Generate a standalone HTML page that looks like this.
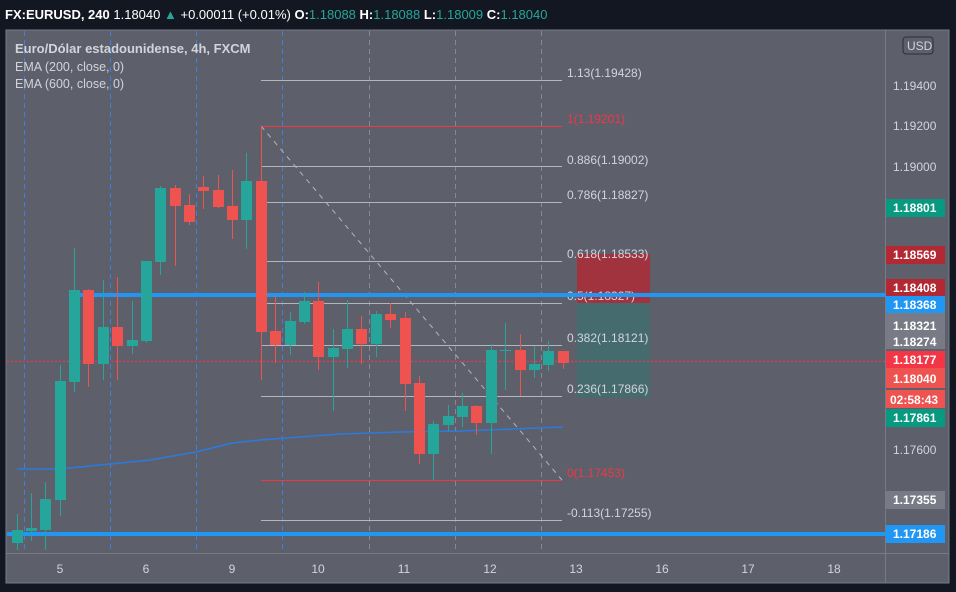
<!DOCTYPE html>
<html><head><meta charset="utf-8"><style>
html,body{margin:0;padding:0;background:#131722;}
svg{display:block;font-family:"Liberation Sans","DejaVu Sans",sans-serif;}
</style></head><body>
<svg width="956" height="592" viewBox="0 0 956 592" xmlns="http://www.w3.org/2000/svg">
<rect width="956" height="592" fill="#131722"/>
<text x="5" y="19" font-size="13" fill="#fff" font-weight="bold">FX:EURUSD, 240 <tspan font-weight="normal">1.18040</tspan> <tspan fill="#26a69a">▲</tspan> <tspan font-weight="normal">+0.00011 (+0.01%)</tspan> O:<tspan fill="#26a69a" font-weight="normal">1.18088</tspan> H:<tspan fill="#26a69a" font-weight="normal">1.18088</tspan> L:<tspan fill="#26a69a" font-weight="normal">1.18009</tspan> C:<tspan fill="#26a69a" font-weight="normal">1.18040</tspan></text>
<rect x="6" y="30" width="943" height="553" fill="#5d606b" stroke="#787b86" stroke-width="1"/>
<line x1="885.5" y1="30" x2="885.5" y2="583" stroke="#787b86"/>
<line x1="6" y1="553.5" x2="949" y2="553.5" stroke="#787b86"/>
<g stroke="#3f7fe0" stroke-dasharray="5,4" stroke-width="1">
<line x1="24.5" y1="31" x2="24.5" y2="553"/><line x1="110.5" y1="31" x2="110.5" y2="553"/>
<line x1="196.5" y1="31" x2="196.5" y2="553"/><line x1="282.5" y1="31" x2="282.5" y2="553"/>
<line x1="369.5" y1="31" x2="369.5" y2="553" stroke="#8088a0"/><line x1="455.5" y1="31" x2="455.5" y2="553" stroke="#8088a0"/>
<line x1="541.5" y1="31" x2="541.5" y2="553" stroke="#8088a0"/>
</g>
<text x="15" y="53" font-size="13" fill="#d1d4dc" font-weight="bold">Euro/Dólar estadounidense, 4h, FXCM</text>
<text x="15" y="71" font-size="12.5" fill="#d1d4dc">EMA (200, close, 0)</text>
<text x="15" y="88" font-size="12.5" fill="#d1d4dc">EMA (600, close, 0)</text>
<g stroke="#b2b5be" stroke-width="1">
<line x1="261" y1="80.5" x2="562" y2="80.5"/><line x1="261" y1="166.5" x2="562" y2="166.5"/>
<line x1="261" y1="202.5" x2="562" y2="202.5"/><line x1="261" y1="261.5" x2="562" y2="261.5"/>
<line x1="261" y1="303.5" x2="562" y2="303.5"/><line x1="261" y1="345.5" x2="562" y2="345.5"/>
<line x1="261" y1="396.5" x2="562" y2="396.5"/><line x1="261" y1="520.5" x2="562" y2="520.5"/>
</g>
<line x1="261" y1="126.5" x2="562" y2="126.5" stroke="#f23645"/>
<line x1="261" y1="480.5" x2="562" y2="480.5" stroke="#f23645"/>
<line x1="261" y1="126" x2="562" y2="480" stroke="#b2b5be" stroke-dasharray="5,5"/>
<rect x="577" y="254" width="73" height="49" fill="#b22833" opacity="0.8"/>
<rect x="577" y="303" width="73" height="95" fill="#3f6f70" opacity="0.75"/>
<g font-size="12" fill="#d1d4dc">
<text x="567" y="77">1.13(1.19428)</text><text x="567" y="164">0.886(1.19002)</text>
<text x="567" y="199">0.786(1.18827)</text><text x="567" y="258">0.618(1.18533)</text>
<text x="567" y="300">0.5(1.18327)</text><text x="567" y="342">0.382(1.18121)</text>
<text x="567" y="393">0.236(1.17866)</text><text x="567" y="517">-0.113(1.17255)</text>
</g>
<text x="567" y="123" font-size="12" fill="#f23645">1(1.19201)</text>
<text x="567" y="477" font-size="12" fill="#f23645">0(1.17453)</text>
<rect x="80" y="293" width="806" height="4" fill="#2196f3"/>
<rect x="7" y="532" width="879" height="4" fill="#2196f3"/>
<line x1="7" y1="361.5" x2="885" y2="361.5" stroke="#f23645" stroke-width="1.2" stroke-dasharray="2,2"/>
<polyline fill="none" stroke="#2a7be0" stroke-width="1.5" points="17,469 60,469 100,465 150,460 196,452 232,443 260,440 300,437 340,434 400,432 460,431 563,427"/>
<g stroke="#26a69a" fill="#26a69a">
<line x1="17.5" y1="514" x2="17.5" y2="550"/><rect x="12" y="530" width="11" height="13" stroke="none"/>
<line x1="31.5" y1="493" x2="31.5" y2="541"/><rect x="26" y="528" width="11" height="3" stroke="none"/>
<line x1="45.5" y1="482" x2="45.5" y2="550"/><rect x="40" y="499" width="11" height="31" stroke="none"/>
<line x1="60.5" y1="365" x2="60.5" y2="516"/><rect x="55" y="381" width="11" height="119" stroke="none"/>
<line x1="74.5" y1="248" x2="74.5" y2="392"/><rect x="69" y="290" width="11" height="92" stroke="none"/>
<line x1="103.5" y1="280" x2="103.5" y2="380"/><rect x="98" y="327" width="11" height="37" stroke="none"/>
<line x1="132.5" y1="301" x2="132.5" y2="354"/><rect x="127" y="340" width="11" height="6" stroke="none"/>
<line x1="146.5" y1="261" x2="146.5" y2="343"/><rect x="141" y="261" width="11" height="80" stroke="none"/>
<line x1="160.5" y1="186" x2="160.5" y2="275"/><rect x="155" y="188" width="11" height="74" stroke="none"/>
<line x1="246.5" y1="153" x2="246.5" y2="249"/><rect x="241" y="181" width="11" height="39" stroke="none"/>
<line x1="290.5" y1="312" x2="290.5" y2="355"/><rect x="285" y="321" width="11" height="24" stroke="none"/>
<line x1="304.5" y1="292" x2="304.5" y2="324"/><rect x="299" y="301" width="11" height="21" stroke="none"/>
<line x1="333.5" y1="329" x2="333.5" y2="411"/><rect x="328" y="348" width="11" height="9" stroke="none"/>
<line x1="347.5" y1="300" x2="347.5" y2="368"/><rect x="342" y="329" width="11" height="20" stroke="none"/>
<line x1="376.5" y1="311" x2="376.5" y2="357"/><rect x="371" y="314" width="11" height="30" stroke="none"/>
<line x1="433.5" y1="421" x2="433.5" y2="480"/><rect x="428" y="424" width="11" height="30" stroke="none"/>
<line x1="448.5" y1="405" x2="448.5" y2="431"/><rect x="443" y="416" width="11" height="9" stroke="none"/>
<line x1="462.5" y1="393" x2="462.5" y2="427"/><rect x="457" y="406" width="11" height="11" stroke="none"/>
<line x1="491.5" y1="344" x2="491.5" y2="454"/><rect x="486" y="350" width="11" height="73" stroke="none"/>
<line x1="505.5" y1="323" x2="505.5" y2="390"/><rect x="500" y="350" width="11" height="1" stroke="none"/>
<line x1="534.5" y1="346" x2="534.5" y2="378"/><rect x="529" y="364" width="11" height="6" stroke="none"/>
<line x1="548.5" y1="341" x2="548.5" y2="371"/><rect x="543" y="351" width="11" height="14" stroke="none"/>
</g>
<g stroke="#ef5350" fill="#ef5350">
<line x1="88.5" y1="289" x2="88.5" y2="387"/><rect x="83" y="290" width="11" height="74" stroke="none"/>
<line x1="117.5" y1="277" x2="117.5" y2="380"/><rect x="112" y="327" width="11" height="19" stroke="none"/>
<line x1="175.5" y1="185" x2="175.5" y2="266"/><rect x="170" y="188" width="11" height="18" stroke="none"/>
<line x1="189.5" y1="194" x2="189.5" y2="225"/><rect x="184" y="205" width="11" height="17" stroke="none"/>
<line x1="203.5" y1="176" x2="203.5" y2="209"/><rect x="198" y="187" width="11" height="4" stroke="none"/>
<line x1="218.5" y1="175" x2="218.5" y2="208"/><rect x="213" y="190" width="11" height="17" stroke="none"/>
<line x1="232.5" y1="170" x2="232.5" y2="239"/><rect x="227" y="206" width="11" height="14" stroke="none"/>
<line x1="261.5" y1="126" x2="261.5" y2="380"/><rect x="256" y="181" width="11" height="151" stroke="none"/>
<line x1="275.5" y1="296" x2="275.5" y2="363"/><rect x="270" y="331" width="11" height="14" stroke="none"/>
<line x1="318.5" y1="282" x2="318.5" y2="370"/><rect x="313" y="301" width="11" height="56" stroke="none"/>
<line x1="361.5" y1="316" x2="361.5" y2="364"/><rect x="356" y="329" width="11" height="15" stroke="none"/>
<line x1="390.5" y1="303" x2="390.5" y2="328"/><rect x="385" y="314" width="11" height="6" stroke="none"/>
<line x1="405.5" y1="312" x2="405.5" y2="411"/><rect x="400" y="318" width="11" height="66" stroke="none"/>
<line x1="419.5" y1="376" x2="419.5" y2="464"/><rect x="414" y="383" width="11" height="71" stroke="none"/>
<line x1="476.5" y1="405" x2="476.5" y2="435"/><rect x="471" y="406" width="11" height="17" stroke="none"/>
<line x1="520.5" y1="334" x2="520.5" y2="396"/><rect x="515" y="350" width="11" height="20" stroke="none"/>
<line x1="563.5" y1="351" x2="563.5" y2="369"/><rect x="558" y="351" width="11" height="12" stroke="none"/>
</g>
<g font-size="12" fill="#d1d4dc">
<text x="893" y="90">1.19400</text><text x="893" y="130">1.19200</text><text x="893" y="171">1.19000</text>
<text x="893" y="454">1.17600</text>
</g>
<rect x="903" y="37" width="30" height="17" rx="3" fill="#5d606b" stroke="#2a2e39"/>
<text x="907" y="50" font-size="12" fill="#d1d4dc">USD</text>
<g font-size="12" font-weight="bold" fill="#fff">
<rect x="886" y="199" width="59" height="18" fill="#089981"/><text x="893" y="212">1.18801</text>
<rect x="886" y="246" width="59" height="18" fill="#b22833"/><text x="893" y="259">1.18569</text>
<rect x="886" y="279" width="59" height="17" fill="#b22833"/><text x="893" y="292">1.18408</text>
<rect x="886" y="296" width="59" height="17" fill="#2196f3"/><text x="893" y="309">1.18368</text>
<rect x="886" y="313" width="59" height="36" fill="#787b86"/><text x="893" y="330">1.18321</text><text x="893" y="346">1.18274</text>
<rect x="886" y="351" width="59" height="17" fill="#f23645"/><text x="893" y="364">1.18177</text>
<rect x="886" y="368" width="59" height="20" fill="#ef5350"/><text x="893" y="383">1.18040</text>
<rect x="886" y="390" width="59" height="18" fill="#ef5350"/><text x="890" y="404">02:58:43</text>
<rect x="886" y="409" width="59" height="18" fill="#089981"/><text x="893" y="422">1.17861</text>
<rect x="886" y="491" width="59" height="18" fill="#787b86"/><text x="893" y="504">1.17355</text>
<rect x="886" y="525" width="59" height="18" fill="#2196f3"/><text x="893" y="538">1.17186</text>
</g>
<g font-size="12" fill="#d1d4dc" text-anchor="middle">
<text x="60" y="573">5</text><text x="146" y="573">6</text><text x="232" y="573">9</text><text x="318" y="573">10</text>
<text x="404" y="573">11</text><text x="490" y="573">12</text><text x="576" y="573">13</text><text x="662" y="573">16</text>
<text x="748" y="573">17</text><text x="834" y="573">18</text>
</g>
</svg>
</body></html>
